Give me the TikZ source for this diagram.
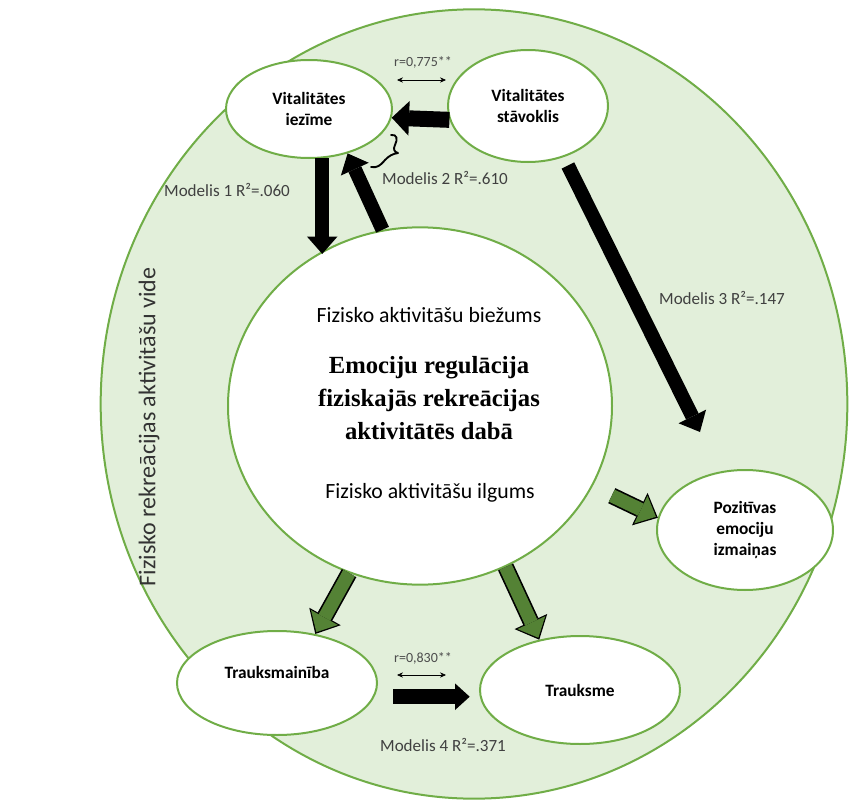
\documentclass[tikz,border=0pt]{standalone}
\usepackage{fontspec}
\setmainfont{Carlito}
\newfontfamily\titleserif{Liberation Serif}
\usetikzlibrary{shapes.geometric, arrows.meta}
\definecolor{envfill}{HTML}{E2EFDA}
\definecolor{envline}{HTML}{70AD47}
\definecolor{arrgreen}{HTML}{548235}
\tikzset{
    var/.style={ellipse, draw=envline, line width=1.5pt, fill=white, inner sep=0pt,
        align=center, font=\bfseries\fontsize{13}{16}\selectfont}, % variable ellipses
    blk/.style={line width=10.5pt, -{Triangle[width=23pt, length=13pt, line width'=0pt]}}, % black block arrows
    grnout/.style={line width=12.5pt, black, -{Triangle[width=27pt, length=15pt, line width'=0pt]}},
    grn/.style={line width=10pt, arrgreen, shorten >=1.6pt,
        -{Triangle[width=23pt, length=12.5pt, line width'=0pt]}}, % green block arrows
    corr/.style={{Stealth[length=4.5pt, width=4pt]}-{Stealth[length=4.5pt, width=4pt]}, line width=0.5pt},
    modlab/.style={font=\fontsize{12.8}{15}\selectfont, text=black!75},
    rlab/.style={font=\fontsize{10.5}{12}\selectfont, text=black!70},
}
\newcommand{\grnarrow}[3][]{\draw[grnout,#1] #2 -- #3; \draw[grn,#1] #2 -- #3;}

\begin{document}
\begin{tikzpicture}[x=0.75pt, y=-0.75pt]
  \useasboundingbox (0,0) rectangle (851,803);
  % environment
  \draw[envline, fill=envfill, line width=1.5pt] (474,404) ellipse [x radius=280pt, y radius=296pt];
  \node[rotate=90, font=\fontsize{18}{21}\selectfont, text=black!80] (vide) at (149,427)
    {Fizisko rekreācijas aktivitāšu vide};

  % variables
  \node[var, minimum width=124.5pt, minimum height=73.5pt] (vitiez) at (309,109) {Vitalitātes\\iezīme};
  \node[var, minimum width=120pt, minimum height=84pt] (vitst) at (528,106) {Vitalitātes\\stāvoklis};
  \node[var, minimum width=288pt, minimum height=268pt] (center) at (420,406) {};
  \node[var, minimum width=132pt, minimum height=90pt] (poz) at (745,530) {Pozitīvas\\emociju\\izmaiņas};
  \node[var, minimum width=150pt, minimum height=78pt] (trm) at (277,683) {Trauksmainība\\~};
  \node[var, minimum width=150pt, minimum height=81pt] (trs) at (580,690) {Trauksme};

  % text in the centre
  \node[font=\fontsize{16.3}{19}\selectfont] (freq) at (429,315) {Fizisko aktivitāšu biežums};
  \node[align=center, font=\titleserif\bfseries\fontsize{18.5}{25}\selectfont] (title) at (429,398)
    {Emociju regulācija\\fiziskajās rekreācijas\\aktivitātēs dabā};
  \node[font=\fontsize{16.3}{19}\selectfont] (dur) at (430,493) {Fizisko aktivitāšu ilgums};

  % models
  \draw[blk, line width=12pt, -{Triangle[width=26pt, length=13pt, line width'=0pt]}] (vitst.190) -- (vitiez.-6);
  \draw[blk] (vitiez.-75) -- (vitiez.-75 |- center.124);
  \draw[blk] (center.102) -- (vitiez.-49);
  \coordinate (m3end) at (700,432);
  \draw[blk, shorten <=7pt] (vitst.-55) -- (m3end);
  \draw[blk, line width=11pt, -{Triangle[width=20pt, length=11pt, line width'=0pt]},
    shorten <=14pt, shorten >=7pt] (trm.-8) -- (trm.-8 -| trs.west);

  \grnarrow[shorten <=16pt]{(center.-25)}{(poz.172)}
  \grnarrow{(center.-113)}{(trm.52)}
  \grnarrow{(center.-62)}{(trs.129)}

  % labels
  \node[modlab] (m1) at (227,190) {Modelis 1 R²=.060};
  \node[modlab] (m2) at (445,178) {Modelis 2 R²=.610};
  \node[modlab] (m3) at (722,298) {Modelis 3 R²=.147};
  \node[modlab] (m4) at (443,745) {Modelis 4 R²=.371};
  % brace of model 2
  \draw[line width=1.4pt, line cap=round, line join=round]
    (391,135) .. controls (397,134) and (398,139) .. (395,145)
    .. controls (393,149) and (394,152) .. (398,153)
    .. controls (392,154) and (389,156) .. (385,160)
    .. controls (380,166) and (377,168) .. (371,167);

  % correlations
  \node[rlab] (r1) at (423,62) {r=0,775**};
  \coordinate (r1a) at (397,80);
  \coordinate (r1b) at (446,80);
  \draw[corr] (r1a) -- (r1b);
  \node[rlab] (r2) at (423,658) {r=0,830**};
  \coordinate (r2a) at (397,675);
  \coordinate (r2b) at (446,675);
  \draw[corr] (r2a) -- (r2b);
\end{tikzpicture}
\end{document}
